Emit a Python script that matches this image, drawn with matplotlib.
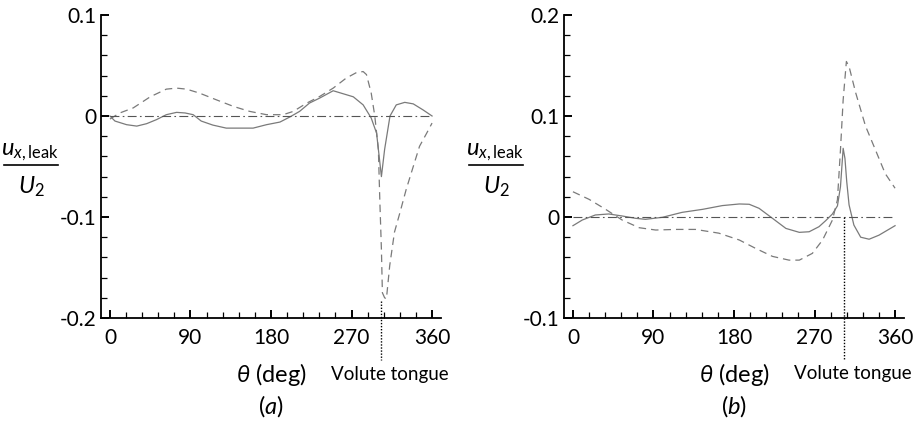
import numpy as np
import matplotlib
matplotlib.use("Agg")
import matplotlib.pyplot as plt
from matplotlib.ticker import MultipleLocator
from matplotlib.lines import Line2D

plt.rcParams['font.family'] = ['Lato', 'DejaVu Sans']
plt.rcParams['mathtext.fontset'] = 'custom'
plt.rcParams['mathtext.rm'] = 'Lato'
plt.rcParams['mathtext.it'] = 'Lato:italic'

### DATA ###
# panel (a)
a_solid_theta = [0, 5.6, 18.6, 30, 41, 52, 63, 74.5, 84, 93, 102, 115, 130, 145, 160,
                 175, 190, 201, 212, 223, 234.5, 249.5, 257, 272, 283, 292, 298, 303.4,
                 307, 313, 320, 329.5, 339, 350, 360]
a_solid_val = [0, -0.005, -0.0086, -0.010, -0.0076, -0.0036, 0.0013, 0.0036, 0.003, 0.0013,
               -0.005, -0.009, -0.012, -0.012, -0.012, -0.0086, -0.006, -0.001, 0.0046,
               0.0128, 0.0178, 0.025, 0.023, 0.019, 0.011, -0.002, -0.017, -0.060, -0.033,
               0.0, 0.011, 0.0135, 0.012, 0.006, 0.0]
a_dash_theta = [0, 11, 26, 45, 63, 74.5, 85.6, 100, 119, 138, 156, 175, 193.6, 205, 220,
                234.5, 249.5, 264, 275.5, 283, 286.7, 292, 296, 300, 301.6, 303.4, 304.5,
                307, 309, 312.7, 318, 324, 331, 339, 346, 354, 360]
a_dash_val = [-0.003, 0.003, 0.008, 0.019, 0.0266, 0.0276, 0.0266, 0.0227, 0.016, 0.0095,
              0.0046, 0.0013, 0.0013, 0.0046, 0.0128, 0.0194, 0.0276, 0.0375, 0.043, 0.044,
              0.041, 0.0227, 0.0, -0.033, -0.083, -0.132, -0.175, -0.18, -0.181, -0.148,
              -0.115, -0.096, -0.073, -0.050, -0.030, -0.017, -0.007]

# panel (b)
b_solid_theta = [0, 10.4, 25, 40, 55, 70, 81, 100, 122, 145, 167, 186, 197, 208, 223, 238,
                 253, 264, 275, 282.5, 290, 295.6, 299, 302, 304, 306, 308.6, 314, 321.6, 331,
                 342, 353.5, 360]
b_solid_val = [-0.0086, -0.003, 0.002, 0.003, 0.001, -0.0013, -0.0023, -0.0003, 0.0046,
               0.0076, 0.0113, 0.0129, 0.0126, 0.0086, -0.0013, -0.0113, -0.0152, -0.0146,
               -0.0096, -0.0036, 0.003, 0.011, 0.030, 0.068, 0.058, 0.035, 0.012, -0.008,
               -0.020, -0.022, -0.018, -0.012, -0.0086]
b_dash_theta = [0, 18, 36.5, 55, 74, 92.5, 115, 137, 163, 186, 204, 223, 241.5, 253, 267.6,
                279, 290, 295.6, 299, 302, 305.6, 308.6, 316, 327, 338, 349, 360]
b_dash_val = [0.025, 0.0175, 0.0076, -0.003, -0.0106, -0.0129, -0.0123, -0.0123, -0.016,
              -0.0228, -0.031, -0.039, -0.0427, -0.0427, -0.036, -0.0228, -0.003, 0.017,
              0.0666, 0.116, 0.154, 0.149, 0.123, 0.090, 0.0666, 0.043, 0.0285]

tongue = 303
panels = [
    dict(solid=(a_solid_theta, a_solid_val), dash=(a_dash_theta, a_dash_val),
         ylim=(-0.2, 0.1), yticks=[-0.2, -0.1, 0, 0.1], ylabels=['-0.2', '-0.1', '0', '0.1'],
         tongue_top=-0.183, tag='a', left=101, frac_x=31),
    dict(solid=(b_solid_theta, b_solid_val), dash=(b_dash_theta, b_dash_val),
         ylim=(-0.1, 0.2), yticks=[-0.1, 0, 0.1, 0.2], ylabels=['-0.1', '0', '0.1', '0.2'],
         tongue_top=0.0, tag='b', left=564, frac_x=496),
]

### PLOT ###
W, H = 916, 423
fig = plt.figure(figsize=(W / 100, H / 100), dpi=100)
grey = '#7a7a7a'

def fx(px):
    return px / W

def fy(py):
    return 1 - py / H

for p in panels:
    ax = fig.add_axes([p['left'] / W, 1 - 318 / H, 340 / W, 303 / H])
    ax.plot(*p['solid'], color=grey, lw=0.9)
    ax.plot(*p['dash'], color=grey, lw=0.9, ls=(0, (6, 4)))
    ax.plot([0, 360], [0, 0], color='#555555', lw=0.8, ls=(0, (8, 3, 1.5, 3)))

    ax.set_xlim(-10, 370)
    ax.set_ylim(*p['ylim'])
    for s in ['top', 'right']:
        ax.spines[s].set_visible(False)
    for s in ['left', 'bottom']:
        ax.spines[s].set_linewidth(1.3)

    ax.set_xticks([0, 90, 180, 270, 360])
    ax.xaxis.set_minor_locator(MultipleLocator(18))
    ax.set_yticks(p['yticks'])
    ax.set_yticklabels(p['ylabels'])
    ax.yaxis.set_minor_locator(MultipleLocator(0.02))
    ax.tick_params(which='both', direction='in', labelsize=15, width=0.9)
    ax.tick_params(which='major', length=6, width=1.4)
    ax.tick_params(which='minor', length=4)
    ax.tick_params(axis='x', pad=7)

    # volute tongue marker
    span = p['ylim'][1] - p['ylim'][0]
    ybot = p['ylim'][0] - span * 42 / 303
    ax.plot([tongue, tongue], [p['tongue_top'], ybot], color='black', lw=1.0,
            ls=(0, (1, 1.2)), clip_on=False)

    # bottom labels
    ax.text(313, p['ylim'][0] - span * 56 / 303, 'Volute tongue', ha='center', va='center',
            fontsize=13.5)
    ax.text(181, p['ylim'][0] - span * 56 / 303, r'$\theta$ (deg)', ha='center', va='center',
            fontsize=17)
    ax.text(180, p['ylim'][0] - span * 88 / 303, '(' + r'$' + p['tag'] + r'$' + ')',
            ha='center', va='center', fontsize=17)

    # y label as a stacked fraction
    cx = p['frac_x']
    fig.text(fx(cx - 1), fy(155), r'$u_{x,\mathrm{leak}}$', ha='center', va='baseline',
             fontsize=17)
    fig.add_artist(Line2D([fx(cx - 27), fx(cx + 27)], [fy(165), fy(165)], color='black',
                          lw=1.2, transform=fig.transFigure))
    fig.text(fx(cx), fy(193), r'$U_2$', ha='center', va='baseline', fontsize=17)

fig.savefig('out.png', dpi=100)
